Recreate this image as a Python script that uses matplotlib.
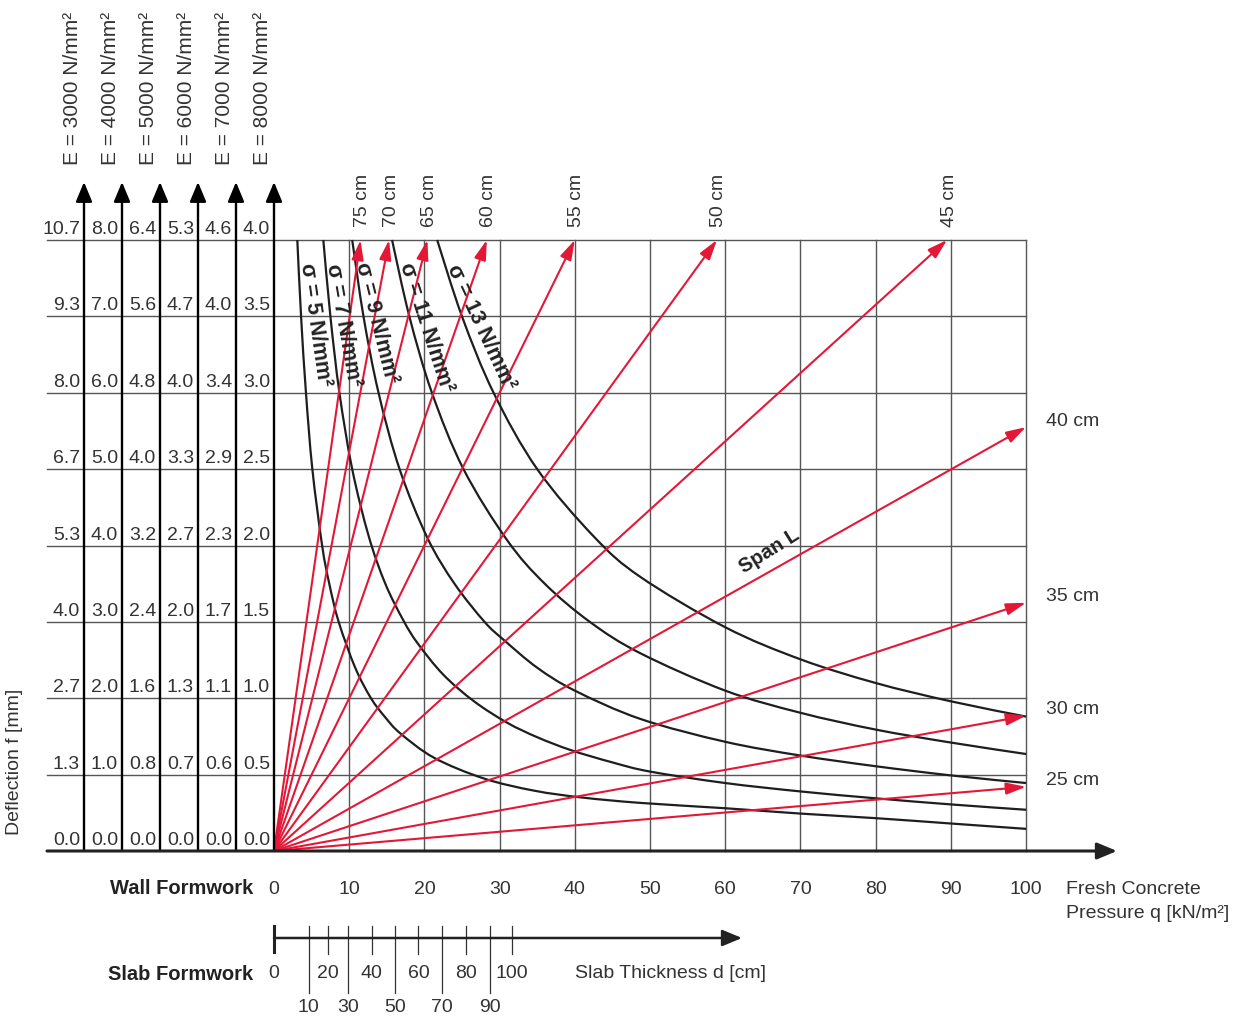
import numpy as np
import matplotlib.pyplot as plt
from matplotlib.path import Path
from matplotlib.patches import PathPatch

plt.rcParams['font.family'] = ['Liberation Sans', 'DejaVu Sans']

# deflection columns (one per E modulus), value at each horizontal gridline
e_moduli = [3000, 4000, 5000, 6000, 7000, 8000]
f_e3000 = ["0.0", "1.3", "2.7", "4.0", "5.3", "6.7", "8.0", "9.3", "10.7"]
f_e4000 = ["0.0", "1.0", "2.0", "3.0", "4.0", "5.0", "6.0", "7.0", "8.0"]
f_e5000 = ["0.0", "0.8", "1.6", "2.4", "3.2", "4.0", "4.8", "5.6", "6.4"]
f_e6000 = ["0.0", "0.7", "1.3", "2.0", "2.7", "3.3", "4.0", "4.7", "5.3"]
f_e7000 = ["0.0", "0.6", "1.1", "1.7", "2.3", "2.9", "3.4", "4.0", "4.6"]
f_e8000 = ["0.0", "0.5", "1.0", "1.5", "2.0", "2.5", "3.0", "3.5", "4.0"]
f_grid = [0, 1, 2, 3, 4, 5, 6, 7, 8]   # f [mm] for E = 4000

# fresh concrete pressure axis
q_ticks = [0, 10, 20, 30, 40, 50, 60, 70, 80, 90, 100]

# slab thickness d [cm] -> position on pressure axis
slab_d = [10, 20, 30, 40, 50, 60, 70, 80, 90, 100]
slab_q = [4.6, 7.2, 9.9, 13.0, 16.1, 19.2, 22.3, 25.5, 28.7, 31.6]

# span lines (red)
span_cm = [75, 70, 65, 60, 55, 50, 45, 40, 35, 30, 25]
span_q = [11.5, 15.3, 20.4, 28.3, 40.0, 58.9, 89.5, 100, 100, 100, 100]
span_f = [8, 8, 8, 8, 8, 8, 8, 5.55, 3.25, 1.77, 0.84]

# stress curves (black)
sigma = [5, 7, 9, 11, 13]
sig5_q = [3.1, 3.6, 4.25, 5.1, 6.4, 7.35, 8.6, 10.8, 12.9, 14.8, 16.8, 21.3, 27.9, 34.6, 41, 48.7, 60, 70, 80, 90, 100]
sig5_f = [8.0, 7.0, 6.0, 5.0, 4.0, 3.5, 3.0, 2.4, 2.0, 1.75, 1.54, 1.22, 0.95, 0.79, 0.70, 0.63, 0.56, 0.49, 0.43, 0.36, 0.29]
sig7_q = [6.56, 7.5, 8.7, 10.4, 12.6, 14.8, 17.2, 19.1, 22.5, 26.6, 31, 35, 39.5, 45, 50, 60, 70, 80, 90, 100]
sig7_f = [8.0, 7.0, 6.0, 5.0, 4.12, 3.5, 3.02, 2.72, 2.31, 1.96, 1.68, 1.49, 1.32, 1.16, 1.04, 0.89, 0.78, 0.69, 0.61, 0.54]
sig9_q = [10.4, 11.9, 13.9, 16.7, 20.4, 24, 28, 30.6, 35, 40, 48.7, 60, 70, 80, 90, 100]
sig9_f = [8.0, 7.0, 6.0, 5.0, 4.1, 3.5, 3.0, 2.76, 2.4, 2.1, 1.73, 1.43, 1.25, 1.11, 0.99, 0.89]
sig11_q = [15.7, 18, 21, 25.2, 31, 36, 42, 48.7, 60, 70, 80, 90, 100]
sig11_f = [8.0, 7.0, 6.0, 5.0, 4.07, 3.5, 3.0, 2.59, 2.10, 1.81, 1.59, 1.42, 1.27]
sig13_q = [21.7, 25, 29.2, 35, 42.6, 48.7, 60, 70, 80, 90, 100]
sig13_f = [8.0, 7.0, 6.0, 5.0, 4.11, 3.59, 2.93, 2.51, 2.20, 1.96, 1.76]

RED = '#e31837'
GRID = '#555555'
TXT = '#333333'

# pixel -> data helpers for layout (x: 0 at px 274, 100 at px 1026; y: 0 at px 851, 8 at px 240)
X0, SX = 274, 7.52
Y0, SY = 851, 76.375
def px(p):
    return (p - X0) / SX
def py(p):
    return (Y0 - p) / SY

fig = plt.figure(figsize=(12.46, 10.17), dpi=100)
ax = fig.add_axes([0, 0, 1, 1])
ax.set_xlim(px(0), px(1246))
ax.set_ylim(py(1017), py(0))
ax.axis("off")

def arrow(x0, y0, x1, y1, color, lw, hl, hw, z):
    ax.annotate("", xy=(x1, y1), xytext=(x0, y0),
                arrowprops=dict(arrowstyle="-|>,head_length=%s,head_width=%s" % (hl, hw),
                                color=color, lw=lw, shrinkA=0, shrinkB=0,
                                mutation_scale=20), zorder=z)

def smooth_curve(q, f):
    # bezier path through the read points (catmull-rom style handles)
    p = np.column_stack([q, f])
    pts = np.vstack([p[0], p, p[-1]])
    verts = [p[0]]
    codes = [Path.MOVETO]
    for i in range(1, len(pts) - 2):
        c1 = pts[i] + (pts[i + 1] - pts[i - 1]) / 6
        c2 = pts[i + 1] - (pts[i + 2] - pts[i]) / 6
        verts += [c1, c2, pts[i + 1]]
        codes += [Path.CURVE4] * 3
    return Path(verts, codes)

# grid
for f in f_grid[1:]:
    ax.plot([px(47), 100], [f, f], color=GRID, lw=1.0, zorder=1)
for q in q_ticks[1:]:
    ax.plot([q, q], [0, 8], color=GRID, lw=1.0, zorder=1)

# E columns + main axes
col_x = [px(84 + 38 * i) for i in range(6)]
for x in col_x:
    arrow(x, 0, x, py(182), 'black', 1.7, 0.6, 0.25, 4)
arrow(px(47), 0, px(1117), 0, '#222222', 2.2, 0.6, 0.25, 4)

cols = [f_e3000, f_e4000, f_e5000, f_e6000, f_e7000, f_e8000]
for x, col, e in zip(col_x, cols, e_moduli):
    for f, s in zip(f_grid, col):
        ax.text(x - 4 / SX, f + 6 / SY, s, ha='right', va='baseline',
                fontsize=14, color=TXT, zorder=5)
    ax.text(x - 12 / SX, py(165), "E = %d N/mm²" % e, rotation=90,
            ha='center', va='bottom', fontsize=15, color=TXT)

ax.text(px(15), py(762), "Deflection f [mm]", rotation=90, ha='center', va='center',
        fontsize=14, color=TXT)

# stress curves
for q, f in [(sig5_q, sig5_f), (sig7_q, sig7_f), (sig9_q, sig9_f), (sig11_q, sig11_f), (sig13_q, sig13_f)]:
    ax.add_patch(PathPatch(smooth_curve(q, f), fill=False, edgecolor='#1e1e1e', lw=1.6,
                           zorder=2, capstyle='butt'))

sig_lab = [(315, 325, -82), (343, 325, -80), (376, 323, -76), (426, 327, -72), (481, 327, -65)]
for s, (lx, ly, rot) in zip(sigma, sig_lab):
    ax.text(px(lx), py(ly), "σ = %d N/mm²" % s, rotation=rot, rotation_mode='anchor',
            ha='center', va='center', fontsize=15.5, fontweight='bold', color='#222222', zorder=5)

# span lines
for cm, q, f in zip(span_cm, span_q, span_f):
    arrow(0, 0, q, f, RED, 1.5, 0.6, 0.18, 3)
    if f >= 8:
        ax.text(q + 2 / SX, py(227), "%d cm" % cm, rotation=90, ha='center', va='bottom',
                fontsize=14, color=TXT)
    else:
        ax.text(px(1046), f + 0.08, "%d cm" % cm, ha='left', va='center',
                fontsize=14, color=TXT)

ax.text(px(769), py(551), "Span L", rotation=32, rotation_mode='anchor', ha='center',
        va='center', fontsize=14.5, fontweight='bold', color='#222222', zorder=5)

# wall formwork axis labels
ax.text(px(253), py(889), "Wall Formwork", ha='right', va='center', fontsize=14.5,
        fontweight='bold', color='#222222')
for q in q_ticks:
    ax.text(q, py(889), str(q), ha='center', va='center', fontsize=14, color=TXT)
ax.text(px(1066), py(889), "Fresh Concrete", ha='left', va='center', fontsize=14, color=TXT)
ax.text(px(1066), py(914), "Pressure q [kN/m²]", ha='left', va='center', fontsize=14, color=TXT)

# slab formwork axis
ys = py(938)
arrow(0, ys, px(742), ys, '#222222', 1.8, 0.6, 0.25, 4)
ax.plot([0, 0], [py(926), py(952)], color='#222222', lw=2.2)
for d, q in zip(slab_d, slab_q):
    if d % 20 == 0:
        ax.plot([q, q], [py(926), py(954)], color='#333333', lw=0.9)
        ax.text(q, py(973), str(d), ha='center', va='center', fontsize=14, color=TXT)
    else:
        ax.plot([q, q], [py(926), py(993)], color='#333333', lw=0.9)
        ax.text(q, py(1007), str(d), ha='center', va='center', fontsize=14, color=TXT)
ax.text(0, py(973), "0", ha='center', va='center', fontsize=14, color=TXT)
ax.text(px(575), py(973), "Slab Thickness d [cm]", ha='left', va='center', fontsize=14, color=TXT)
ax.text(px(253), py(975), "Slab Formwork", ha='right', va='center', fontsize=14.5,
        fontweight='bold', color='#222222')

fig.savefig("out.png", dpi=100)
